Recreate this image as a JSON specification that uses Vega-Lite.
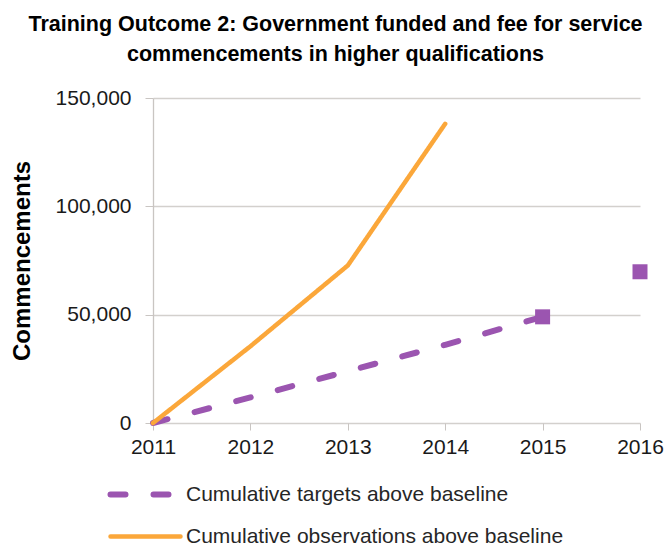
{
  "$schema": "https://vega.github.io/schema/vega-lite/v6.json",
  "autosize": {"type": "none"},
  "width": 487,
  "height": 325,
  "padding": {"left": 153, "top": 98, "right": 25, "bottom": 122},
  "background": "white",
  "title": {
    "text": ["Training Outcome 2: Government funded and fee for service", "commencements in higher qualifications"],
    "font": "Liberation Sans",
    "fontSize": 21.5,
    "fontWeight": "bold",
    "color": "#000000",
    "anchor": "middle",
    "frame": "group",
    "dx": -61,
    "lineHeight": 30,
    "offset": 22
  },
  "datasets": {
    "lines": [
      {"year": 2011, "value": 0, "series": "Cumulative targets above baseline"},
      {"year": 2012, "value": 11800, "series": "Cumulative targets above baseline"},
      {"year": 2013, "value": 23900, "series": "Cumulative targets above baseline"},
      {"year": 2014, "value": 36100, "series": "Cumulative targets above baseline"},
      {"year": 2015, "value": 49000, "series": "Cumulative targets above baseline"},
      {"year": 2011, "value": 0, "series": "Cumulative observations above baseline"},
      {"year": 2012, "value": 35400, "series": "Cumulative observations above baseline"},
      {"year": 2013, "value": 72700, "series": "Cumulative observations above baseline"},
      {"year": 2014, "value": 138100, "series": "Cumulative observations above baseline"}
    ],
    "points": [
      {"year": 2015, "value": 49000},
      {"year": 2016, "value": 69800}
    ]
  },
  "layer": [
    {
      "data": {"name": "lines"},
      "mark": {"type": "line", "strokeCap": "round", "strokeJoin": "round", "clip": false},
      "encoding": {
        "x": {
          "field": "year", "type": "quantitative",
          "scale": {"domain": [2011, 2016], "nice": false, "zero": false},
          "axis": {
            "values": [2011, 2012, 2013, 2014, 2015, 2016],
            "format": "d",
            "title": null,
            "grid": false,
            "domain": false,
            "tickSize": 7,
            "tickColor": "#C9C5C2",
            "labelPadding": 6,
            "labelFontSize": 21,
            "labelFont": "Liberation Sans",
            "labelColor": "#1a1a1a",
            "labelFlush": false
          }
        },
        "y": {
          "field": "value", "type": "quantitative",
          "scale": {"domain": [0, 150000], "nice": false},
          "axis": {
            "values": [0, 50000, 100000, 150000],
            "format": ",.0f",
            "title": "Commencements",
            "titleFont": "Liberation Sans",
            "titleFontSize": 24,
            "titleFontWeight": "bold",
            "titleColor": "#000000",
            "titlePadding": 21,
            "grid": true,
            "gridColor": "#D3D0CD",
            "gridWidth": 1.3,
            "domainColor": "#C9C5C2",
            "domainWidth": 1.3,
            "tickSize": 8,
            "tickColor": "#C9C5C2",
            "labelPadding": 14,
            "labelFontSize": 21,
            "labelFont": "Liberation Sans",
            "labelColor": "#1a1a1a"
          }
        },
        "color": {
          "field": "series", "type": "nominal",
          "scale": {
            "domain": ["Cumulative targets above baseline", "Cumulative observations above baseline"],
            "range": ["#9B55B0", "#FBA73A"]
          },
          "legend": {
            "title": null,
            "orient": "none",
            "legendX": -18,
            "legendY": 386,
            "direction": "vertical",
            "symbolType": "M-7,0H7",
            "symbolSize": 100,
            "labelOffset": 30,
            "labelFontSize": 21,
            "labelFont": "Liberation Sans",
            "labelColor": "#262626",
            "rowPadding": 18,
            "labelLimit": 500,
            "symbolStrokeWidth": 6,
            "encode": {
              "symbols": {
                "update": {
                  "strokeCap": {"value": "round"},
                  "strokeDash": {"signal": "datum.value == 'Cumulative targets above baseline' ? [20, 26] : [1, 0]"},
                  "strokeWidth": {"signal": "datum.value == 'Cumulative targets above baseline' ? 6 : 5"}
                }
              }
            }
          }
        },
        "strokeDash": {
          "field": "series", "type": "nominal",
          "scale": {
            "domain": ["Cumulative targets above baseline", "Cumulative observations above baseline"],
            "range": [[15, 28], [1, 0]]
          },
          "legend": null
        },
        "strokeWidth": {
          "field": "series", "type": "nominal",
          "scale": {
            "domain": ["Cumulative targets above baseline", "Cumulative observations above baseline"],
            "range": [6, 4.5]
          },
          "legend": null
        }
      }
    },
    {
      "data": {"name": "points"},
      "mark": {"type": "point", "shape": "square", "filled": true, "size": 225, "color": "#9B55B0", "opacity": 1, "clip": false},
      "encoding": {
        "x": {"field": "year", "type": "quantitative"},
        "y": {"field": "value", "type": "quantitative"}
      }
    }
  ],
  "config": {
    "view": {"stroke": null},
    "font": "Liberation Sans"
  }
}
